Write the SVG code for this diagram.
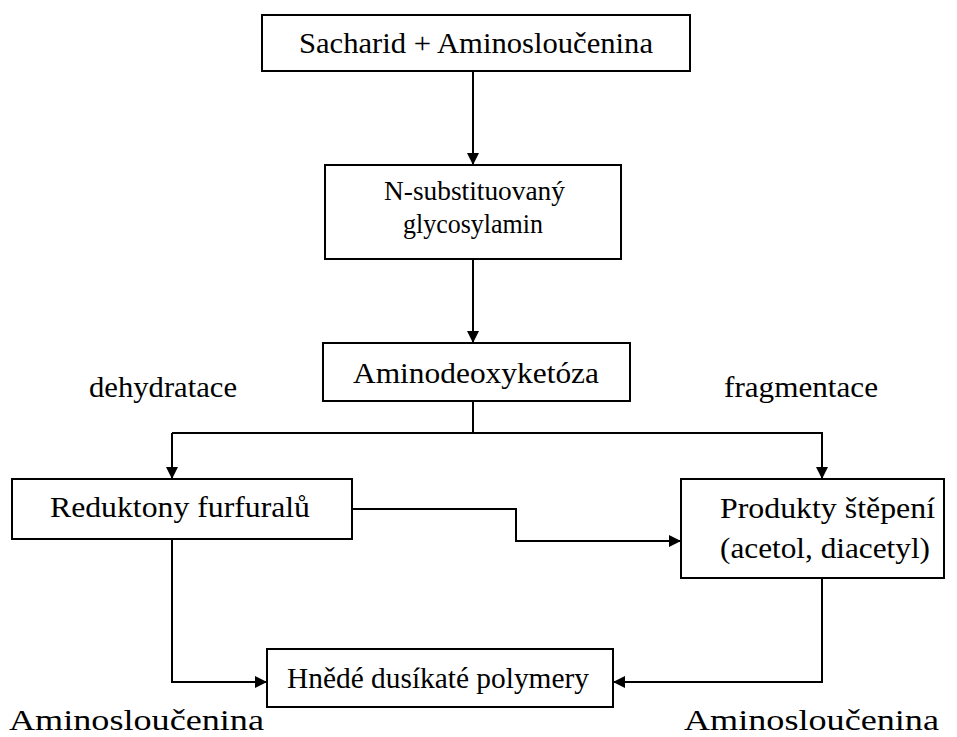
<svg xmlns="http://www.w3.org/2000/svg" width="957" height="737" viewBox="0 0 957 737">
<style>
.box{fill:#fff;stroke:#000;stroke-width:2}
.c{fill:none;stroke:#000;stroke-width:2}
.t{font-family:'Liberation Serif','DejaVu Serif','Times New Roman',serif;font-size:30px;fill:#000}
.s{font-size:28px}
</style>
<defs>
<marker id="ah" viewBox="0 0 12 12" refX="12" refY="6" markerWidth="12" markerHeight="12" markerUnits="userSpaceOnUse" orient="auto">
<path d="M0,0 L12,6 L0,12 Z" fill="#000"/>
</marker>
</defs>
<rect width="957" height="737" fill="#fff"/>
<g id="connectors">
<path class="c" d="M473,71 V165" marker-end="url(#ah)"/>
<path class="c" d="M473,259 V343" marker-end="url(#ah)"/>
<path class="c" d="M473,401 V433"/>
<path class="c" d="M172,433 H822 V479" marker-end="url(#ah)"/>
<path class="c" d="M172,433 V479" marker-end="url(#ah)"/>
<path class="c" d="M352,509 H516 V541 H681" marker-end="url(#ah)"/>
<path class="c" d="M172,539 V682 H267" marker-end="url(#ah)"/>
<path class="c" d="M822,578 V682 H613" marker-end="url(#ah)"/>
</g>
<g id="n1">
<rect class="box" x="262" y="15" width="428" height="56"/>
<text class="t" x="299" y="53" textLength="354" lengthAdjust="spacingAndGlyphs">Sacharid + Aminosloučenina</text>
</g>
<g id="n2">
<rect class="box" x="325" y="165" width="296" height="94"/>
<text class="t s" x="384" y="200" textLength="181" lengthAdjust="spacingAndGlyphs">N-substituovaný</text>
<text class="t s" x="403" y="233" textLength="140" lengthAdjust="spacingAndGlyphs">glycosylamin</text>
</g>
<g id="n3">
<rect class="box" x="323" y="343" width="307" height="58"/>
<text class="t" x="353" y="383" textLength="246" lengthAdjust="spacingAndGlyphs">Aminodeoxyketóza</text>
</g>
<g id="n4">
<rect class="box" x="12" y="479" width="340" height="60"/>
<text class="t" x="50" y="517" textLength="260" lengthAdjust="spacingAndGlyphs">Reduktony furfuralů</text>
</g>
<g id="n5">
<rect class="box" x="681" y="479" width="263" height="99"/>
<text class="t" x="720" y="518" textLength="215" lengthAdjust="spacingAndGlyphs">Produkty štěpení</text>
<text class="t" x="720" y="558" textLength="210" lengthAdjust="spacingAndGlyphs">(acetol, diacetyl)</text>
</g>
<g id="n6">
<rect class="box" x="267" y="649" width="346" height="58"/>
<text class="t" x="287" y="688" textLength="302" lengthAdjust="spacingAndGlyphs">Hnědé dusíkaté polymery</text>
</g>
<g id="labels">
<text class="t" x="89" y="397" textLength="148" lengthAdjust="spacingAndGlyphs">dehydratace</text>
<text class="t" x="724" y="397" textLength="154" lengthAdjust="spacingAndGlyphs">fragmentace</text>
<text class="t" x="9" y="730" textLength="255" lengthAdjust="spacingAndGlyphs">Aminosloučenina</text>
<text class="t" x="684" y="730" textLength="255" lengthAdjust="spacingAndGlyphs">Aminosloučenina</text>
</g>
</svg>
